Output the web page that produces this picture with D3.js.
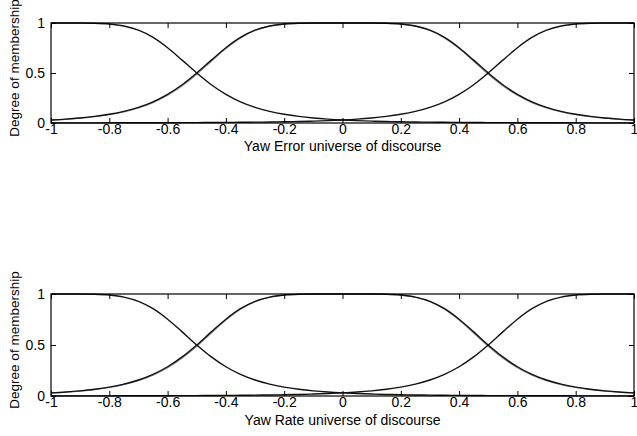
<!DOCTYPE html>
<html>
<head>
<meta charset="utf-8">
<script src="https://cdn.jsdelivr.net/npm/d3@7/dist/d3.min.js"></script>
<style>
  html, body { margin: 0; padding: 0; background: #fff; }
  svg { display: block; }
  text { font-family: "Liberation Sans", Arial, sans-serif; fill: #000; }
</style>
</head>
<body>
<svg id="chart" width="637" height="436"></svg>
<script>
// Universe of discourse sample points
const xValues = [-1.00,-0.95,-0.90,-0.85,-0.80,-0.75,-0.70,-0.65,-0.60,-0.55,
  -0.50,-0.45,-0.40,-0.35,-0.30,-0.25,-0.20,-0.15,-0.10,-0.05,
  0.00,0.05,0.10,0.15,0.20,0.25,0.30,0.35,0.40,0.45,
  0.50,0.55,0.60,0.65,0.70,0.75,0.80,0.85,0.90,0.95,1.00];

// Membership grades: negative (left), zero (centre), positive (right)
const negative = [1.0000,1.0000,0.9997,0.9976,0.9899,0.9697,0.9279,0.8561,0.7532,0.6287,
  0.5000,0.3831,0.2867,0.2122,0.1568,0.1164,0.0871,0.0658,0.0503,0.0388,
  0.0303,0.0239,0.0190,0.0153,0.0124,0.0101,0.0083,0.0069,0.0058,0.0049,
  0.0041,0.0035,0.0030,0.0025,0.0022,0.0019,0.0017,0.0014,0.0013,0.0011,0.0010];
const zero = [0.0303,0.0388,0.0503,0.0658,0.0871,0.1164,0.1568,0.2122,0.2867,0.3831,
  0.5000,0.6287,0.7532,0.8561,0.9279,0.9697,0.9899,0.9976,0.9997,1.0000,
  1.0000,1.0000,0.9997,0.9976,0.9899,0.9697,0.9279,0.8561,0.7532,0.6287,
  0.5000,0.3831,0.2867,0.2122,0.1568,0.1164,0.0871,0.0658,0.0503,0.0388,0.0303];
const zeroTuned = [0.0289,0.0370,0.0479,0.0628,0.0832,0.1113,0.1503,0.2039,0.2765,0.3713,
  0.4874,0.6169,0.7437,0.8498,0.9244,0.9682,0.9894,0.9974,0.9997,1.0000,
  1.0000,1.0000,0.9997,0.9974,0.9894,0.9682,0.9244,0.8498,0.7437,0.6169,
  0.4874,0.3713,0.2765,0.2039,0.1503,0.1113,0.0832,0.0628,0.0479,0.0370,0.0289];
const positive = [0.0010,0.0011,0.0013,0.0014,0.0017,0.0019,0.0022,0.0025,0.0030,0.0035,
  0.0041,0.0049,0.0058,0.0069,0.0083,0.0101,0.0124,0.0153,0.0190,0.0239,
  0.0303,0.0388,0.0503,0.0658,0.0871,0.1164,0.1568,0.2122,0.2867,0.3831,
  0.5000,0.6287,0.7532,0.8561,0.9279,0.9697,0.9899,0.9976,0.9997,1.0000,1.0000];

const xTicks = [-1,-0.8,-0.6,-0.4,-0.2,0,0.2,0.4,0.6,0.8,1];
const xTickLabels = ["-1","-0.8","-0.6","-0.4","-0.2","0","0.2","0.4","0.6","0.8","1"];
const yTicks = [0,0.5,1];
const yTickLabels = ["0","0.5","1"];

const panelTitles = ["Yaw Error universe of discourse", "Yaw Rate universe of discourse"];
const yTitle = "Degree of membership";

const svg = d3.select("#chart");
const left = 51, right = 634;
const panels = [{top: 23, bottom: 123, title: 151}, {top: 294, bottom: 396, title: 425}];

const x = d3.scaleLinear().domain([-1, 1]).range([left, right]);

panels.forEach((p, k) => {
  const y = d3.scaleLinear().domain([0, 1]).range([p.bottom, p.top]);
  const g = svg.append("g");

  const line = d3.line()
    .x((d, i) => x(xValues[i]))
    .y(d => y(d))
    .curve(d3.curveMonotoneX);

  // Curves
  g.append("path").datum(zeroTuned).attr("d", line)
    .attr("fill", "none").attr("stroke", "#8a8a8a").attr("stroke-width", 1.2);
  [negative, zero, positive].forEach(series => {
    g.append("path").datum(series).attr("d", line)
      .attr("fill", "none").attr("stroke", "#111").attr("stroke-width", 1.4);
  });

  // Axes with inward ticks on all four sides
  const tickLen = 5;
  const bottomAxis = d3.axisBottom(x).tickValues(xTicks)
    .tickFormat((d, i) => xTickLabels[i]).tickSizeInner(-tickLen).tickSizeOuter(0).tickPadding(1);
  const topAxis = d3.axisTop(x).tickValues(xTicks)
    .tickFormat("").tickSizeInner(-tickLen).tickSizeOuter(0);
  const leftAxis = d3.axisLeft(y).tickValues(yTicks)
    .tickFormat((d, i) => yTickLabels[i]).tickSizeInner(-tickLen).tickSizeOuter(0).tickPadding(6);
  const rightAxis = d3.axisRight(y).tickValues(yTicks)
    .tickFormat("").tickSizeInner(-tickLen).tickSizeOuter(0);

  const ax = [
    g.append("g").attr("transform", `translate(0,${p.bottom})`).call(bottomAxis),
    g.append("g").attr("transform", `translate(0,${p.top})`).call(topAxis),
    g.append("g").attr("transform", `translate(${left},0)`).call(leftAxis),
    g.append("g").attr("transform", `translate(${right},0)`).call(rightAxis)
  ];
  ax.forEach(a => {
    a.select(".domain").remove();
    a.selectAll("line").attr("stroke", "#000").attr("stroke-width", 1);
    a.selectAll("text").attr("font-size", 14)
      .style("font-family", "'Liberation Sans', Arial, sans-serif");
  });

  // Frame
  g.append("rect").attr("x", left).attr("y", p.top)
    .attr("width", right - left).attr("height", p.bottom - p.top)
    .attr("fill", "none").attr("stroke", "#000").attr("stroke-width", 1.2);

  // Titles
  g.append("text").attr("x", x(0)).attr("y", p.title)
    .attr("text-anchor", "middle").attr("font-size", 14).text(panelTitles[k]);
  g.append("text")
    .attr("transform", `translate(14,${(p.top + p.bottom) / 2 - 5}) rotate(-90)`)
    .attr("text-anchor", "middle").attr("dy", "0.35em").attr("font-size", 13.5).text(yTitle);
});
</script>
</body>
</html>
